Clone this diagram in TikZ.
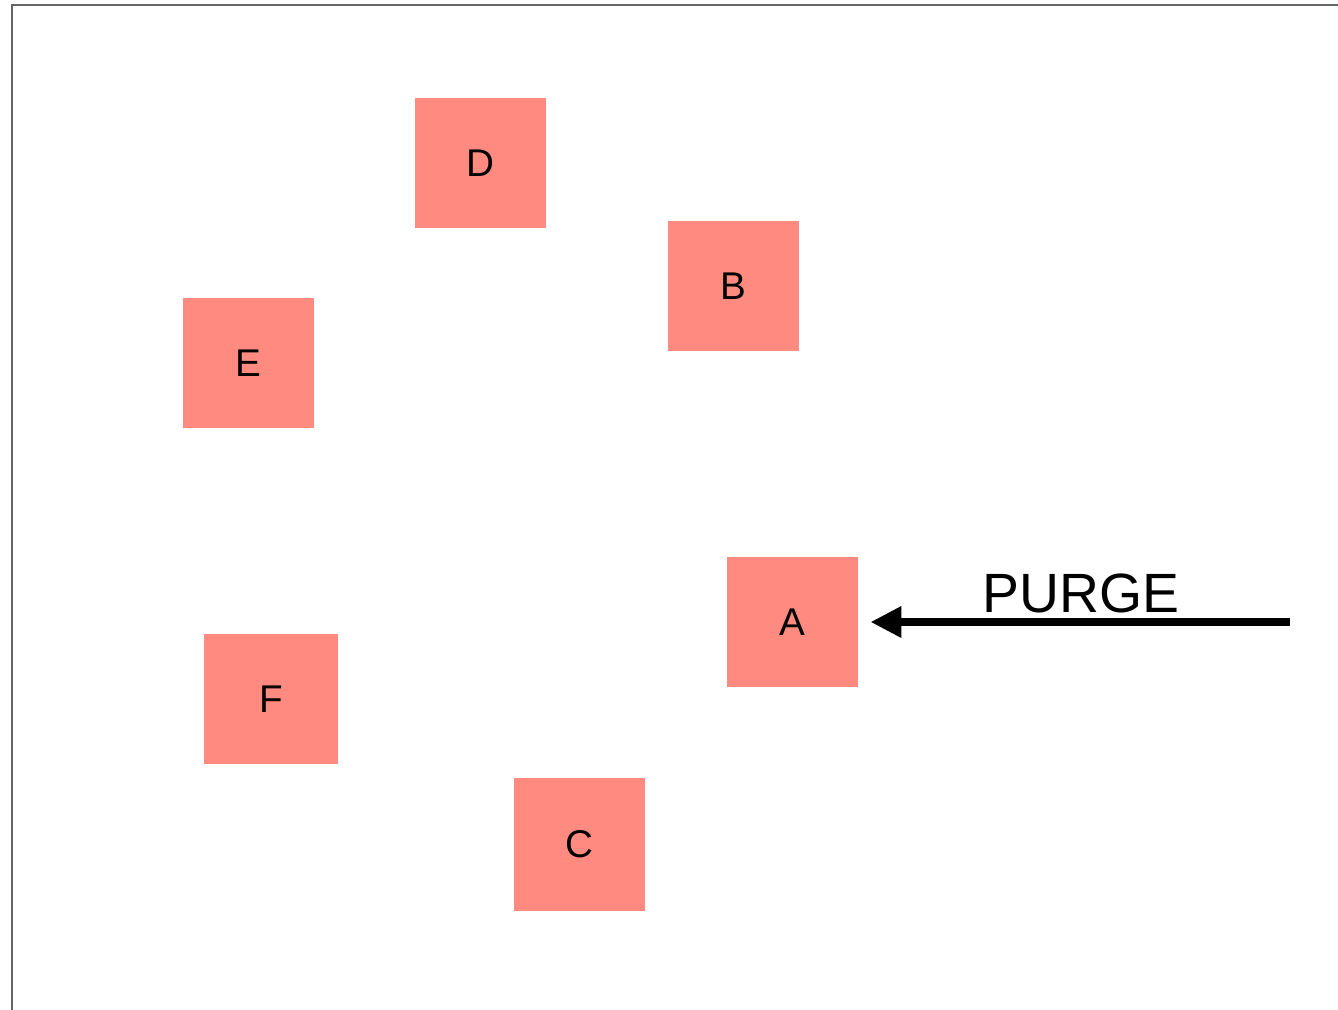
\documentclass[tikz,border=0pt]{standalone}
\usepackage{fontspec}
\setmainfont{Liberation Sans}
\usetikzlibrary{arrows.meta}
\definecolor{salmon}{RGB}{255,138,128}

\begin{document}
\begin{tikzpicture}[x=0.02cm, y=-0.02cm,
    box/.style={fill=salmon, minimum width=2.62cm, minimum height=2.6cm,
                inner sep=0pt, font=\fontsize{22}{24}\selectfont}]
  \useasboundingbox (0,0) rectangle (1338,1010);
  % frame lines at top and left
  \draw[gray!80!black, line width=0.8pt] (12,1010) -- (12,5) -- (1338,5);

  \node[box] (D) at (480.5,163) {D};
  \node[box] (B) at (733.5,286) {B};
  \node[box] (E) at (248.5,363) {E};
  \node[box] (A) at (792.5,622) {A};
  \node[box, minimum width=2.68cm] (F) at (271,699) {F};
  \node[box, minimum height=2.66cm] (C) at (579.5,844.5) {C};

  \coordinate (P) at (1290,622);
  \draw[line width=4pt, -{Triangle[length=17.5pt, width=17pt]}, shorten >=7pt] (P) -- (A);
  \node[font=\fontsize{31.5}{34}\selectfont] (purge) at (1081,593) {PURGE};
\end{tikzpicture}
\end{document}
